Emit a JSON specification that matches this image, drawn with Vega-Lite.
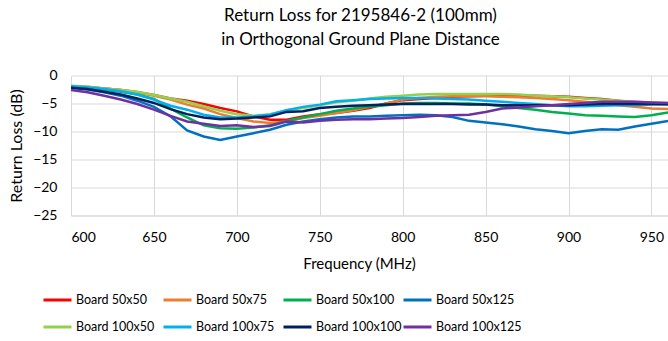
{
  "$schema": "https://vega.github.io/schema/vega-lite/v6.json",
  "width": 597,
  "height": 140,
  "autosize": {"type": "none"},
  "padding": {"left": 71, "top": 75.5, "right": 0, "bottom": 125.5},
  "background": "white",
  "config": {
    "font": "Lato",
    "view": {"stroke": null},
    "axis": {
      "gridColor": "#D9D9D9",
      "gridWidth": 1,
      "domainColor": "#D9D9D9",
      "ticks": false,
      "labelColor": "#000000",
      "titleColor": "#000000",
      "labelFontSize": 14,
      "titleFontSize": 15,
      "titleFontWeight": "normal",
      "labelFont": "Lato",
      "titleFont": "Lato"
    }
  },
  "title": {
    "text": ["Return Loss for 2195846-2 (100mm)", "in Orthogonal Ground Plane Distance"],
    "anchor": "middle",
    "frame": "group",
    "fontSize": 17,
    "fontWeight": "normal",
    "color": "#000000",
    "lineHeight": 24,
    "offset": 20,
    "dx": -9,
    "font": "Lato"
  },
  "data": {
    "values": [
      {"f": 600, "Board 50x50": -2.0, "Board 50x75": -1.9, "Board 50x100": -2.0, "Board 50x125": -2.2, "Board 100x50": -1.85, "Board 100x75": -1.9, "Board 100x100": -2.2, "Board 100x125": -2.6},
      {"f": 610, "Board 50x50": -2.1, "Board 50x75": -2.0, "Board 50x100": -2.2, "Board 50x125": -2.5, "Board 100x50": -2.0, "Board 100x75": -2.1, "Board 100x100": -2.4, "Board 100x125": -3.0},
      {"f": 620, "Board 50x50": -2.3, "Board 50x75": -2.3, "Board 50x100": -2.5, "Board 50x125": -3.0, "Board 100x50": -2.3, "Board 100x75": -2.4, "Board 100x100": -2.9, "Board 100x125": -3.6},
      {"f": 630, "Board 50x50": -2.6, "Board 50x75": -2.6, "Board 50x100": -2.9, "Board 50x125": -3.6, "Board 100x50": -2.6, "Board 100x75": -2.8, "Board 100x100": -3.4, "Board 100x125": -4.3},
      {"f": 640, "Board 50x50": -3.0, "Board 50x75": -3.0, "Board 50x100": -3.4, "Board 50x125": -4.5, "Board 100x50": -2.9, "Board 100x75": -3.4, "Board 100x100": -4.1, "Board 100x125": -5.1},
      {"f": 650, "Board 50x50": -3.5, "Board 50x75": -3.6, "Board 50x100": -4.2, "Board 50x125": -5.6, "Board 100x50": -3.5, "Board 100x75": -4.3, "Board 100x100": -4.9, "Board 100x125": -6.1},
      {"f": 660, "Board 50x50": -4.1, "Board 50x75": -4.3, "Board 50x100": -5.9, "Board 50x125": -7.3, "Board 100x50": -4.1, "Board 100x75": -5.4, "Board 100x100": -6.0, "Board 100x125": -7.2},
      {"f": 670, "Board 50x50": -4.5, "Board 50x75": -5.2, "Board 50x100": -7.5, "Board 50x125": -9.8, "Board 100x50": -4.7, "Board 100x75": -6.1, "Board 100x100": -6.9, "Board 100x125": -8.2},
      {"f": 680, "Board 50x50": -5.1, "Board 50x75": -5.9, "Board 50x100": -8.9, "Board 50x125": -10.9, "Board 100x50": -5.5, "Board 100x75": -7.0, "Board 100x100": -7.5, "Board 100x125": -8.6},
      {"f": 690, "Board 50x50": -5.8, "Board 50x75": -6.9, "Board 50x100": -9.4, "Board 50x125": -11.5, "Board 100x50": -6.3, "Board 100x75": -7.5, "Board 100x100": -7.8, "Board 100x125": -9.0},
      {"f": 700, "Board 50x50": -6.4, "Board 50x75": -7.6, "Board 50x100": -9.5, "Board 50x125": -10.9, "Board 100x50": -6.9, "Board 100x75": -7.5, "Board 100x100": -7.7, "Board 100x125": -8.9},
      {"f": 710, "Board 50x50": -7.3, "Board 50x75": -8.2, "Board 50x100": -9.3, "Board 50x125": -10.3, "Board 100x50": -7.2, "Board 100x75": -7.3, "Board 100x100": -7.5, "Board 100x125": -9.2},
      {"f": 720, "Board 50x50": -7.9, "Board 50x75": -8.5, "Board 50x100": -8.9, "Board 50x125": -9.7, "Board 100x50": -6.9, "Board 100x75": -7.0, "Board 100x100": -7.3, "Board 100x125": -9.0},
      {"f": 730, "Board 50x50": -7.9, "Board 50x75": -8.2, "Board 50x100": -8.1, "Board 50x125": -8.8, "Board 100x50": -6.2, "Board 100x75": -6.2, "Board 100x100": -6.5, "Board 100x125": -8.2},
      {"f": 740, "Board 50x50": -7.3, "Board 50x75": -7.6, "Board 50x100": -7.5, "Board 50x125": -8.2, "Board 100x50": -5.8, "Board 100x75": -5.6, "Board 100x100": -6.4, "Board 100x125": -8.4},
      {"f": 750, "Board 50x50": -6.9, "Board 50x75": -7.2, "Board 50x100": -6.9, "Board 50x125": -7.8, "Board 100x50": -5.3, "Board 100x75": -5.2, "Board 100x100": -5.8, "Board 100x125": -8.1},
      {"f": 760, "Board 50x50": -6.7, "Board 50x75": -6.7, "Board 50x100": -6.3, "Board 50x125": -7.5, "Board 100x50": -4.8, "Board 100x75": -4.6, "Board 100x100": -5.6, "Board 100x125": -7.9},
      {"f": 770, "Board 50x50": -6.3, "Board 50x75": -6.2, "Board 50x100": -5.9, "Board 50x125": -7.3, "Board 100x50": -4.5, "Board 100x75": -4.4, "Board 100x100": -5.4, "Board 100x125": -7.8},
      {"f": 780, "Board 50x50": -5.8, "Board 50x75": -5.6, "Board 50x100": -5.6, "Board 50x125": -7.3, "Board 100x50": -4.1, "Board 100x75": -4.2, "Board 100x100": -5.3, "Board 100x125": -7.8},
      {"f": 790, "Board 50x50": -5.0, "Board 50x75": -5.0, "Board 50x100": -5.3, "Board 50x125": -7.2, "Board 100x50": -3.8, "Board 100x75": -4.1, "Board 100x100": -5.2, "Board 100x125": -7.7},
      {"f": 800, "Board 50x50": -4.4, "Board 50x75": -4.3, "Board 50x100": -5.0, "Board 50x125": -7.1, "Board 100x50": -3.6, "Board 100x75": -4.0, "Board 100x100": -5.1, "Board 100x125": -7.6},
      {"f": 810, "Board 50x50": -4.2, "Board 50x75": -4.0, "Board 50x100": -4.9, "Board 50x125": -7.0, "Board 100x50": -3.4, "Board 100x75": -4.0, "Board 100x100": -5.1, "Board 100x125": -7.4},
      {"f": 820, "Board 50x50": -4.0, "Board 50x75": -3.8, "Board 50x100": -4.9, "Board 50x125": -7.1, "Board 100x50": -3.3, "Board 100x75": -4.1, "Board 100x100": -5.1, "Board 100x125": -7.2},
      {"f": 830, "Board 50x50": -3.8, "Board 50x75": -3.7, "Board 50x100": -5.0, "Board 50x125": -7.4, "Board 100x50": -3.3, "Board 100x75": -4.2, "Board 100x100": -5.1, "Board 100x125": -7.1},
      {"f": 840, "Board 50x50": -3.7, "Board 50x75": -3.7, "Board 50x100": -5.0, "Board 50x125": -8.1, "Board 100x50": -3.3, "Board 100x75": -4.3, "Board 100x100": -5.2, "Board 100x125": -7.0},
      {"f": 850, "Board 50x50": -3.6, "Board 50x75": -3.7, "Board 50x100": -5.2, "Board 50x125": -8.4, "Board 100x50": -3.3, "Board 100x75": -4.5, "Board 100x100": -5.2, "Board 100x125": -6.5},
      {"f": 860, "Board 50x50": -3.6, "Board 50x75": -3.8, "Board 50x100": -5.5, "Board 50x125": -8.7, "Board 100x50": -3.3, "Board 100x75": -4.7, "Board 100x100": -5.3, "Board 100x125": -5.9},
      {"f": 870, "Board 50x50": -3.6, "Board 50x75": -3.9, "Board 50x100": -5.8, "Board 50x125": -9.1, "Board 100x50": -3.4, "Board 100x75": -4.9, "Board 100x100": -5.3, "Board 100x125": -5.7},
      {"f": 880, "Board 50x50": -3.6, "Board 50x75": -4.0, "Board 50x100": -6.1, "Board 50x125": -9.6, "Board 100x50": -3.6, "Board 100x75": -5.1, "Board 100x100": -5.3, "Board 100x125": -5.5},
      {"f": 890, "Board 50x50": -3.7, "Board 50x75": -4.2, "Board 50x100": -6.5, "Board 50x125": -9.9, "Board 100x50": -3.7, "Board 100x75": -5.3, "Board 100x100": -5.3, "Board 100x125": -5.3},
      {"f": 900, "Board 50x50": -3.8, "Board 50x75": -4.4, "Board 50x100": -6.8, "Board 50x125": -10.3, "Board 100x50": -3.9, "Board 100x75": -5.5, "Board 100x100": -5.3, "Board 100x125": -5.1},
      {"f": 910, "Board 50x50": -4.0, "Board 50x75": -4.7, "Board 50x100": -7.1, "Board 50x125": -9.9, "Board 100x50": -4.1, "Board 100x75": -5.5, "Board 100x100": -5.2, "Board 100x125": -4.9},
      {"f": 920, "Board 50x50": -4.2, "Board 50x75": -5.0, "Board 50x100": -7.2, "Board 50x125": -9.6, "Board 100x50": -4.3, "Board 100x75": -5.4, "Board 100x100": -5.1, "Board 100x125": -4.7},
      {"f": 930, "Board 50x50": -4.5, "Board 50x75": -5.3, "Board 50x100": -7.3, "Board 50x125": -9.7, "Board 100x50": -4.5, "Board 100x75": -5.3, "Board 100x100": -5.1, "Board 100x125": -4.7},
      {"f": 940, "Board 50x50": -4.8, "Board 50x75": -5.6, "Board 50x100": -7.4, "Board 50x125": -9.1, "Board 100x50": -4.7, "Board 100x75": -5.3, "Board 100x100": -5.1, "Board 100x125": -4.7},
      {"f": 950, "Board 50x50": -5.0, "Board 50x75": -5.9, "Board 50x100": -7.1, "Board 50x125": -8.6, "Board 100x50": -4.8, "Board 100x75": -5.2, "Board 100x100": -5.1, "Board 100x125": -4.8},
      {"f": 960, "Board 50x50": -5.2, "Board 50x75": -6.0, "Board 50x100": -6.6, "Board 50x125": -8.1, "Board 100x50": -4.9, "Board 100x75": -5.2, "Board 100x100": -5.1, "Board 100x125": -4.9}
    ]
  },
  "transform": [
    {"fold": ["Board 50x50", "Board 50x75", "Board 50x100", "Board 50x125", "Board 100x50", "Board 100x75", "Board 100x100", "Board 100x125"], "as": ["s", "v"]}
  ],
  "mark": {"type": "line", "strokeWidth": 2.5, "clip": true},
  "encoding": {
    "x": {
      "field": "f",
      "type": "quantitative",
      "scale": {"domain": [600, 960], "nice": false, "zero": false},
      "axis": {
        "values": [600, 650, 700, 750, 800, 850, 900, 950],
        "title": "Frequency (MHz)",
        "labelPadding": 15,
        "titlePadding": 12,
        "titleX": 288,
        "grid": true
      }
    },
    "y": {
      "field": "v",
      "type": "quantitative",
      "scale": {"domain": [-25, 0], "nice": false, "zero": false},
      "axis": {
        "values": [0, -5, -10, -15, -20, -25],
        "title": "Return Loss (dB)",
        "titleFontSize": 16,
        "domain": false,
        "labelPadding": 14,
        "titlePadding": 8,
        "grid": true
      }
    },
    "color": {
      "field": "s",
      "type": "nominal",
      "scale": {
        "domain": ["Board 50x50", "Board 50x75", "Board 50x100", "Board 50x125", "Board 100x50", "Board 100x75", "Board 100x100", "Board 100x125"],
        "range": ["#FF0000", "#ED7D31", "#00B050", "#0070C0", "#92D050", "#00B0F0", "#002060", "#7030A0"]
      },
      "legend": {
        "orient": "none",
        "direction": "horizontal",
        "legendX": -29,
        "legendY": 209,
        "columns": 4,
        "title": null,
        "symbolType": "stroke",
        "symbolSize": 784,
        "symbolStrokeWidth": 3,
        "labelFontSize": 12.5,
        "labelFont": "Lato",
        "labelColor": "#000000",
        "labelOffset": 3,
        "rowPadding": 5,
        "columnPadding": -30,
        "gridAlign": "all"
      }
    }
  }
}
